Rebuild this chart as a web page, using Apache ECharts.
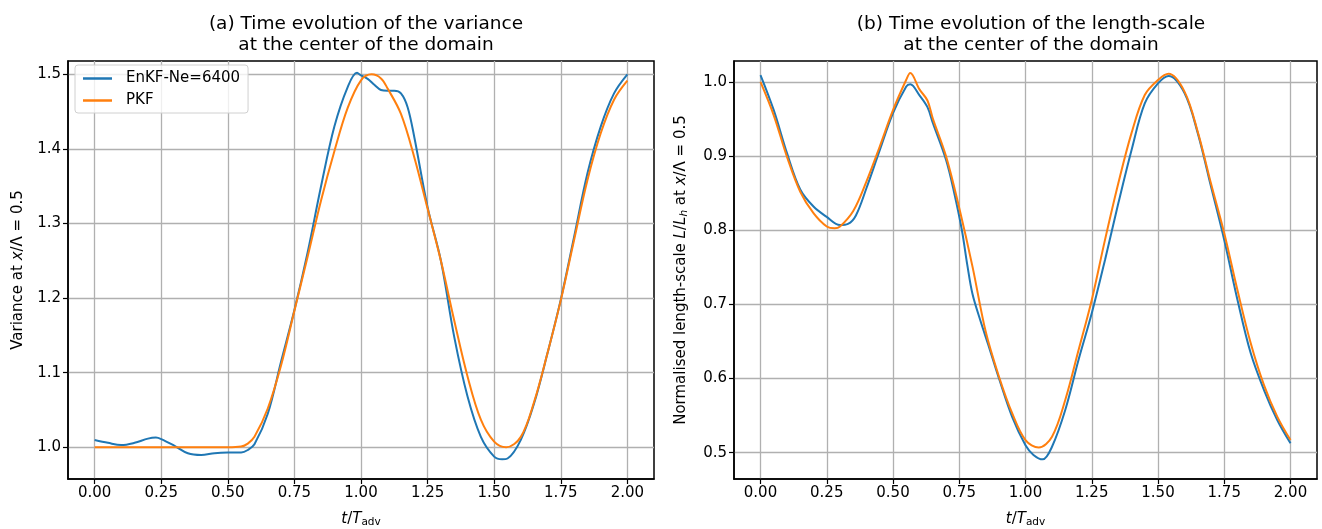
<!DOCTYPE html>
<html><head><meta charset="utf-8">
<script src="https://cdn.jsdelivr.net/npm/echarts@6/dist/echarts.min.js"></script>
<style>html,body{margin:0;padding:0;background:#fff}#c{width:1322px;height:529px}</style>
</head><body><div id="c"></div>
<script>
const seriesNames = ['EnKF-Ne=6400', 'PKF'];
const titlesA = ['(a) Time evolution of the variance', 'at the center of the domain'];
const titlesB = ['(b) Time evolution of the length-scale', 'at the center of the domain'];
const xTicks = [0, 0.25, 0.5, 0.75, 1.0, 1.25, 1.5, 1.75, 2.0];
const varYTicks = [1.0, 1.1, 1.2, 1.3, 1.4, 1.5];
const lenYTicks = [0.5, 0.6, 0.7, 0.8, 0.9, 1.0];

// (a) variance, EnKF
const varEnkfT = [0, 0.05, 0.1, 0.15, 0.2, 0.23, 0.25, 0.3, 0.35, 0.4, 0.45, 0.5, 0.55, 0.575, 0.6, 0.65, 0.7, 0.75, 0.8, 0.85, 0.9, 0.95, 0.985, 1.0, 1.025, 1.05, 1.075, 1.1, 1.125, 1.15, 1.175, 1.2, 1.25, 1.3, 1.35, 1.4, 1.45, 1.5, 1.53, 1.55, 1.6, 1.65, 1.7, 1.75, 1.8, 1.85, 1.9, 1.95, 2.0];
const varEnkfV = [1.0098, 1.006, 1.003, 1.006, 1.0116, 1.013, 1.011, 1.002, 0.992, 0.9897, 0.992, 0.9929, 0.993, 0.9964, 1.004, 1.045, 1.115, 1.184, 1.262, 1.35, 1.43, 1.483, 1.502, 1.4987, 1.494, 1.486, 1.479, 1.478, 1.478, 1.4745, 1.456, 1.416, 1.322, 1.25, 1.148, 1.068, 1.014, 0.9875, 0.984, 0.985, 1.01, 1.059, 1.126, 1.198, 1.282, 1.367, 1.43, 1.4745, 1.5];
// (a) variance, PKF
const varPkfT = [0, 0.1, 0.2, 0.3, 0.4, 0.5, 0.55, 0.575, 0.6, 0.65, 0.7, 0.75, 0.8, 0.85, 0.9, 0.95, 1.0, 1.04, 1.075, 1.1, 1.15, 1.2, 1.25, 1.3, 1.35, 1.4, 1.45, 1.5, 1.545, 1.6, 1.65, 1.7, 1.75, 1.8, 1.85, 1.9, 1.95, 2.0];
const varPkfV = [1.0, 1.0, 1.0, 1.0, 1.0, 1.0, 1.001, 1.005, 1.014, 1.052, 1.11, 1.183, 1.256, 1.331, 1.397, 1.455, 1.492, 1.5, 1.4946, 1.481, 1.447, 1.389, 1.32, 1.25, 1.17, 1.095, 1.037, 1.0076, 1.0, 1.014, 1.061, 1.126, 1.197, 1.278, 1.358, 1.421, 1.466, 1.4915];

// (b) length-scale, EnKF
const lenEnkfT = [0, 0.05, 0.1, 0.15, 0.2, 0.25, 0.3, 0.33, 0.36, 0.4, 0.45, 0.5, 0.55, 0.565, 0.6, 0.63, 0.65, 0.7, 0.73, 0.76, 0.78, 0.8, 0.83, 0.86, 0.9, 0.95, 1.0, 1.03, 1.065, 1.1, 1.15, 1.2, 1.25, 1.3, 1.35, 1.4, 1.45, 1.5, 1.54, 1.6, 1.65, 1.7, 1.75, 1.8, 1.85, 1.9, 1.95, 2.0];
const lenEnkfV = [1.0094, 0.962, 0.904, 0.855, 0.832, 0.818, 0.807, 0.8085, 0.82, 0.857, 0.908, 0.958, 0.994, 0.997, 0.982, 0.966, 0.945, 0.895, 0.852, 0.8, 0.754, 0.714, 0.678, 0.645, 0.6, 0.548, 0.51, 0.497, 0.491, 0.508, 0.5576, 0.625, 0.688, 0.76, 0.836, 0.908, 0.971, 0.998, 1.008, 0.985, 0.931, 0.859, 0.787, 0.706, 0.634, 0.5845, 0.544, 0.5126];
// (b) length-scale, PKF
const lenPkfT = [0, 0.05, 0.1, 0.15, 0.2, 0.25, 0.28, 0.3, 0.35, 0.4, 0.45, 0.5, 0.55, 0.565, 0.6, 0.63, 0.65, 0.7, 0.75, 0.8, 0.85, 0.9, 0.95, 1.0, 1.05, 1.1, 1.15, 1.2, 1.25, 1.3, 1.35, 1.4, 1.45, 1.5, 1.54, 1.6, 1.65, 1.7, 1.75, 1.8, 1.85, 1.9, 1.95, 2.0];
const lenPkfV = [1.0, 0.955, 0.899, 0.852, 0.823, 0.805, 0.8026, 0.805, 0.826, 0.866, 0.913, 0.962, 1.003, 1.012, 0.99, 0.975, 0.951, 0.9, 0.83, 0.751, 0.663, 0.6025, 0.553, 0.517, 0.507, 0.5216, 0.571, 0.638, 0.706, 0.787, 0.863, 0.931, 0.9825, 1.0027, 1.011, 0.987, 0.933, 0.863, 0.796, 0.719, 0.6475, 0.591, 0.5486, 0.517];

const FONT = 'DejaVu Sans';
const BLUE = '#1f77b4', ORANGE = '#ff7f0e';
const FS = 15;
const zip = (t, v) => t.map((x, i) => [x, v[i]]);

const chart = echarts.init(document.getElementById('c'), null, {renderer: 'canvas'});

const richName = {
  i: {fontFamily: FONT, fontSize: FS, fontStyle: 'italic', color: '#000'},
  n: {fontFamily: FONT, fontSize: FS, color: '#000'},
  s: {fontFamily: FONT, fontSize: 10.5, color: '#000', verticalAlign: 'bottom', padding: [7, 0, 0, 0]},
  si: {fontFamily: FONT, fontSize: 10.5, fontStyle: 'italic', color: '#000', verticalAlign: 'bottom', padding: [7, 0, 0, 0]}
};

function xAxis(gi) {
  return {
    type: 'value', gridIndex: gi, min: -0.1, max: 2.1,
    name: '{i|t}{n|/}{i|T}{s|adv}', nameLocation: 'middle', nameGap: 31,
    nameTextStyle: {fontFamily: FONT, fontSize: FS, color: '#000', rich: richName},
    axisLine: {show: true, onZero: false, lineStyle: {color: '#000', width: 1.5}},
    axisTick: {show: true, length: 5, inside: false, customValues: xTicks, lineStyle: {color: '#000', width: 1.2}},
    axisLabel: {customValues: xTicks, margin: 7, fontFamily: FONT, fontSize: FS, color: '#000',
      formatter: v => v.toFixed(2)},
    splitLine: {show: true, lineStyle: {color: '#b0b0b0', width: 1.3}}
  };
}
function yAxis(gi, min, max, ticks, name, nameGap) {
  return {
    type: 'value', gridIndex: gi, min: min, max: max,
    name: name, nameLocation: 'middle', nameGap: nameGap, nameRotate: 90,
    nameTextStyle: {fontFamily: FONT, fontSize: FS, color: '#000', rich: richName},
    axisLine: {show: true, onZero: false, lineStyle: {color: '#000', width: 1.5}},
    axisTick: {show: true, length: 5, inside: false, customValues: ticks, lineStyle: {color: '#000', width: 1.2}},
    axisLabel: {customValues: ticks, margin: 7, fontFamily: FONT, fontSize: FS, color: '#000',
      formatter: v => v.toFixed(1)},
    splitLine: {show: true, lineStyle: {color: '#b0b0b0', width: 1.3}}
  };
}
function line(name, gi, data, color) {
  return {
    name: name, type: 'line', xAxisIndex: gi, yAxisIndex: gi, data: data,
    smooth: 0.35, showSymbol: false, symbol: 'none', animation: false,
    lineStyle: {color: color, width: 2}, itemStyle: {color: color}
  };
}
function title(texts, cx) {
  return {
    text: texts.join('\n'), left: cx, top: 8, textAlign: 'center',
    textStyle: {fontFamily: FONT, fontSize: 18.5, fontWeight: 'normal', color: '#000', lineHeight: 21.5}
  };
}

chart.setOption({
  animation: false,
  backgroundColor: '#fff',
  title: [title(titlesA, 361), title(titlesB, 1026)],
  grid: [
    {left: 68, top: 61, width: 586, height: 418, show: true, borderColor: '#000', borderWidth: 1.5, backgroundColor: 'transparent', containLabel: false, outerBoundsMode: 'none'},
    {left: 734, top: 61, width: 583, height: 418, show: true, borderColor: '#000', borderWidth: 1.5, backgroundColor: 'transparent', containLabel: false, outerBoundsMode: 'none'}
  ],
  xAxis: [xAxis(0), xAxis(1)],
  yAxis: [
    yAxis(0, 0.9575, 1.5179, varYTicks, '{n|Variance at }{i|x}{n|/Λ = 0.5}', 42),
    yAxis(1, 0.4645, 1.0283, lenYTicks, '{n|Normalised length-scale }{i|L}{n|/}{i|L}{si|h}{n| at }{i|x}{n|/Λ = 0.5}', 44)
  ],
  legend: {
    data: seriesNames, orient: 'vertical', left: 75, top: 65,
    padding: [6, 8, 5, 8], itemGap: 7, itemWidth: 29, itemHeight: 2.5, icon: 'rect',
    backgroundColor: 'rgba(255,255,255,0.8)', borderColor: '#d0d0d0', borderWidth: 1, borderRadius: 3,
    textStyle: {fontFamily: FONT, fontSize: FS, color: '#000', padding: [0, 0, 0, 9]}
  },
  series: [
    line(seriesNames[0], 0, zip(varEnkfT, varEnkfV), BLUE),
    line(seriesNames[1], 0, zip(varPkfT, varPkfV), ORANGE),
    line(seriesNames[0], 1, zip(lenEnkfT, lenEnkfV), BLUE),
    line(seriesNames[1], 1, zip(lenPkfT, lenPkfV), ORANGE)
  ]
});
</script></body></html>
